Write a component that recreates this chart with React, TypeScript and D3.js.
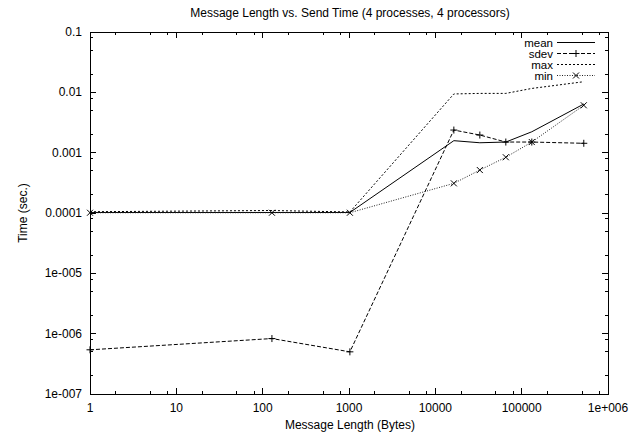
import React from 'react';
import * as d3 from 'd3';

// message sizes in bytes
const sizes = [1, 128, 1024, 16384, 32768, 65536, 131072, 524288];
const meanVals = [1.02e-4, 1.02e-4, 1.02e-4, 0.00158, 0.00146, 0.0015, 0.00222, 0.0064];
const sdevVals = [5.4e-7, 8.3e-7, 5.0e-7, 0.00237, 0.00196, 0.0015, 0.0015, 0.00143];
const maxVals = [1.05e-4, 1.1e-4, 1.04e-4, 0.0094, 0.0096, 0.0096, 0.0116, 0.015];
const minVals = [1.01e-4, 1.01e-4, 1.01e-4, 0.00031, 0.000515, 0.00084, 0.0015, 0.0061];

const xTicks = [1, 10, 100, 1000, 10000, 100000, 1000000];
const xTickLabels = ['1', '10', '100', '1000', '10000', '100000', '1e+006'];
const yTicks = [0.1, 0.01, 0.001, 0.0001, 1e-5, 1e-6, 1e-7];
const yTickLabels = ['0.1', '0.01', '0.001', '0.0001', '1e-005', '1e-006', '1e-007'];
const minorMult = [2, 5, 8];

const series = [
  { name: 'mean', values: meanVals, dash: '', color: '#000', marker: '' },
  { name: 'sdev', values: sdevVals, dash: '4,2', color: '#000', marker: 'plus' },
  { name: 'max', values: maxVals, dash: '2,2', color: '#000', marker: '' },
  { name: 'min', values: minVals, dash: '1,1.5', color: '#222', marker: 'cross' },
];

const W = 644, H = 435;
const left = 90, right = 608, top = 32, bottom = 394;
const font = '"Liberation Sans", Arial, Helvetica, sans-serif';

function Marker({ kind, x, y }: { kind: string; x: number; y: number }) {
  if (kind === 'plus') {
    return (
      <g stroke="#000" strokeWidth={1}>
        <line x1={x - 3.5} x2={x + 3.5} y1={y} y2={y} />
        <line x1={x} x2={x} y1={y - 3.5} y2={y + 3.5} />
      </g>
    );
  }
  if (kind === 'cross') {
    return (
      <g stroke="#000" strokeWidth={1}>
        <line x1={x - 3} x2={x + 3} y1={y - 3} y2={y + 3} />
        <line x1={x - 3} x2={x + 3} y1={y + 3} y2={y - 3} />
      </g>
    );
  }
  return null;
}

export default function App() {
  const x = d3.scaleLog().domain([1, 1e6]).range([left, right]);
  const y = d3.scaleLog().domain([1e-7, 0.1]).range([bottom, top]);

  const line = d3.line<[number, number]>()
    .x((d) => x(d[0]))
    .y((d) => y(d[1]));

  let xMinor: number[] = [];
  xTicks.slice(0, -1).forEach((t) => minorMult.forEach((m) => xMinor.push(t * m)));
  let yMinor: number[] = [];
  yTicks.slice(0, -1).forEach((t) => minorMult.forEach((m) => yMinor.push(t / 10 * m)));

  const tickStyle = { stroke: '#000', strokeWidth: 1 };
  const textStyle = { fontFamily: font, fontSize: 12, fill: '#000' };
  const legendStyle = { fontFamily: font, fontSize: 11.5, fill: '#000' };

  return (
    <svg width={W} height={H} style={{ position: 'absolute', left: 0, top: 0, background: '#fff' }}>
      <text x={350} y={17} textAnchor="middle" style={textStyle}>
        Message Length vs. Send Time (4 processes, 4 processors)
      </text>

      {/* ticks */}
      <g shapeRendering="crispEdges">
        {xTicks.map((t, i) => (
          <g key={'xt' + i}>
            <line style={tickStyle} x1={x(t)} x2={x(t)} y1={bottom} y2={bottom - 6} />
            <line style={tickStyle} x1={x(t)} x2={x(t)} y1={top} y2={top + 6} />
          </g>
        ))}
        {xMinor.map((t, i) => (
          <g key={'xm' + i}>
            <line style={tickStyle} x1={x(t)} x2={x(t)} y1={bottom} y2={bottom - 3} />
            <line style={tickStyle} x1={x(t)} x2={x(t)} y1={top} y2={top + 3} />
          </g>
        ))}
        {yTicks.map((t, i) => (
          <g key={'yt' + i}>
            <line style={tickStyle} x1={left} x2={left + 6} y1={y(t)} y2={y(t)} />
            <line style={tickStyle} x1={right} x2={right - 6} y1={y(t)} y2={y(t)} />
          </g>
        ))}
        {yMinor.map((t, i) => (
          <g key={'ym' + i}>
            <line style={tickStyle} x1={left} x2={left + 3} y1={y(t)} y2={y(t)} />
            <line style={tickStyle} x1={right} x2={right - 3} y1={y(t)} y2={y(t)} />
          </g>
        ))}
        <rect x={left} y={top} width={right - left} height={bottom - top} fill="none" stroke="#000" strokeWidth={1} />
      </g>

      {xTicks.map((t, i) => (
        <text key={'xl' + i} x={x(t)} y={412} textAnchor="middle" style={textStyle}>{xTickLabels[i]}</text>
      ))}
      {yTicks.map((t, i) => (
        <text key={'yl' + i} x={82} y={y(t) + 4} textAnchor="end" style={textStyle}>{yTickLabels[i]}</text>
      ))}

      <text x={350} y={429} textAnchor="middle" style={textStyle}>Message Length (Bytes)</text>
      <text transform={`translate(27,${(top + bottom) / 2}) rotate(-90)`} textAnchor="middle" style={textStyle}>Time (sec.)</text>

      {/* series */}
      {series.map((s) => {
        const pts: [number, number][] = sizes.map((sz, i) => [sz, s.values[i]]);
        return (
          <g key={s.name}>
            <path d={line(pts) || ''} fill="none" stroke={s.color} strokeWidth={1} strokeDasharray={s.dash} />
            {pts.map((p, i) => (
              <Marker key={i} kind={s.marker} x={x(p[0])} y={y(p[1])} />
            ))}
          </g>
        );
      })}

      {/* legend */}
      {series.map((s, i) => {
        const ly = 42.5 + i * 11;
        return (
          <g key={'lg' + s.name}>
            <text x={553} y={ly + 4} textAnchor="end" style={legendStyle}>{s.name}</text>
            <line x1={557} x2={595} y1={ly} y2={ly} stroke={s.color} strokeWidth={1} strokeDasharray={s.dash} />
            <Marker kind={s.marker} x={576} y={ly} />
          </g>
        );
      })}
    </svg>
  );
}
